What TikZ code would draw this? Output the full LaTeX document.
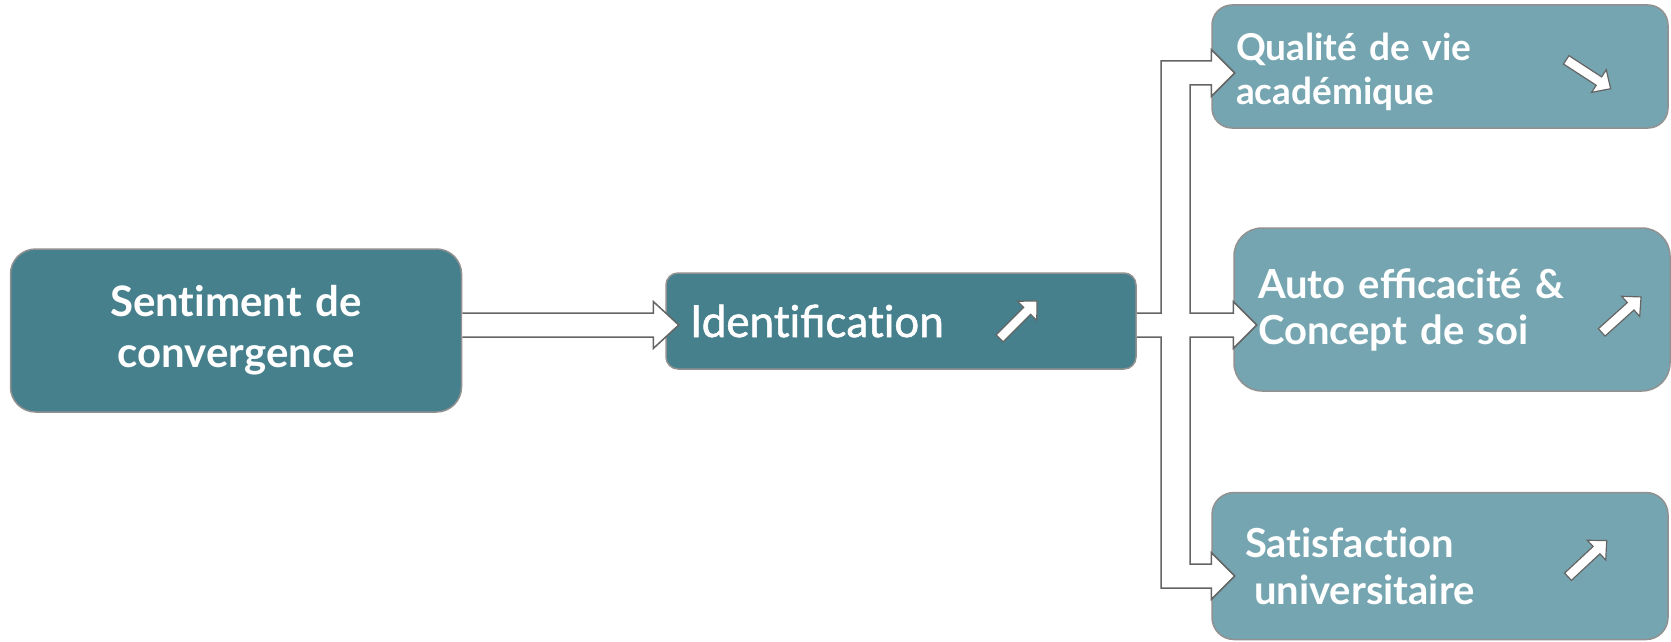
\documentclass[tikz,border=0pt]{standalone}
\usepackage{fontspec}
\setmainfont{Lato}
\newfontfamily\midweight{Lato}[FakeBold=1.3]
\usetikzlibrary{calc}
\definecolor{darkteal}{RGB}{71,128,141}
\definecolor{lightteal}{RGB}{117,165,176}
\definecolor{rimgray}{RGB}{145,145,145}
\definecolor{linegray}{RGB}{100,100,100}
\newcommand{\trend}[2]{%
    \draw[icon, shift={(#1)}, rotate=#2] (-26,-5) -- (13,-5) -- (13,-13.5) -- (27,0)
        -- (13,13.5) -- (13,5) -- (-26,5) -- cycle;}
\newcommand{\nt}{t\kern0pt i}
\begin{document}
\begin{tikzpicture}[
            x=1pt, y=-1pt,
            box/.style={draw=rimgray, line width=1.5pt, text=white, inner ysep=0pt, align=left},
            darkbox/.style={box, fill=darkteal},
            lightbox/.style={box, fill=lightteal},
            blk/.style={draw=linegray, fill=white, line width=1.5pt, line join=miter},
            icon/.style={draw=linegray, fill=white, line width=1.2pt, line join=miter}
            ]
            \useasboundingbox (0,0) rectangle (1671,642);
            \node[darkbox, align=center, rounded corners=25pt, minimum width=451, minimum height=163,
                inner xsep=20pt, text width=411, font=\fontsize{42}{51}\selectfont\bfseries]
                (sent) at (236,330.5) {Sen\nt ment de\\convergence};
            \node[darkbox, rounded corners=12pt, minimum width=470, minimum height=96,
                inner xsep=24pt, text width=422, font=\fontsize{44}{48}\selectfont\midweight]
                (ident) at (901,321) {Iden\nt fica\nt on};
            \node[lightbox, rounded corners=20pt, minimum width=456, minimum height=123,
                inner xsep=24pt, text width=408, font=\fontsize{37}{44}\selectfont\bfseries]
                (qual) at (1440,66.5) {\rule{0pt}{38pt}Qualité de vie\\académique};
            \node[lightbox, rounded corners=28pt, minimum width=436, minimum height=163,
                inner xsep=24pt, text width=388, font=\fontsize{40}{46}\selectfont\bfseries]
                (auto) at (1452,309.5) {Auto efficacité \&\\Concept de soi};
            \node[lightbox, rounded corners=22pt, minimum width=456, minimum height=147,
                inner xsep=33pt, text width=390, font=\fontsize{40}{47}\selectfont\bfseries]
                (sat) at (1440,566) {Sa\nt sfac\nt on\\\hspace*{9pt}universitaire};

            \draw[blk] (sent.east |- 0,313) -- ($(ident.west |- 0,313)+(-12,0)$) -- ++(0,-11.5)
                -- ++(25.5,23.5) -- ++(-25.5,23.5) -- ++(0,-11.5) -- (sent.east |- 0,337);
            \draw[blk] (ident.east |- 0,313) -| (1161,61) -- (qual.west |- 0,61)
                -- ++(0,-11.5) -- ++(23.5,23.5) -- ++(-23.5,23.5) -- ++(0,-11.5)
                -| (1190,313) -- (auto.west |- 0,313)
                -- ++(0,-11.5) -- ++(23.5,23.5) -- ++(-23.5,23.5) -- ++(0,-11.5)
                -| (1190,564) -- (sat.west |- 0,564)
                -- ++(0,-11.5) -- ++(23.5,23.5) -- ++(-23.5,23.5) -- ++(0,-11.5)
                -| (1161,337) -- (ident.east |- 0,337);

            \trend{1018,320}{45}
            \trend{1588,74}{-33}
            \trend{1621,315}{42}
            \trend{1587,559}{43}
\end{tikzpicture}
\end{document}
